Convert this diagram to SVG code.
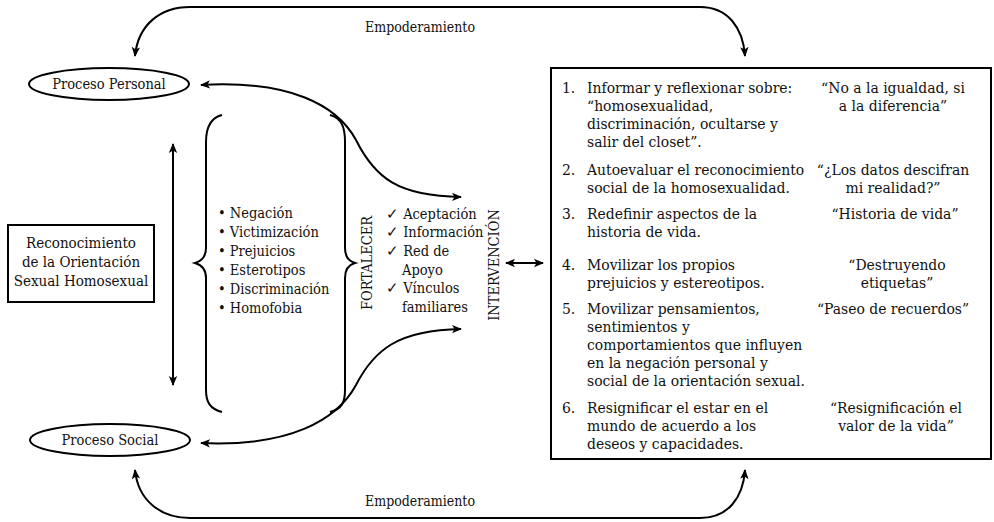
<svg xmlns="http://www.w3.org/2000/svg" width="994" height="522" viewBox="0 0 994 522">
<defs>
<marker id="ah" viewBox="0 0 10 10" refX="9" refY="5" markerWidth="10" markerHeight="10" markerUnits="userSpaceOnUse" orient="auto-start-reverse">
<path d="M0,0.8 L10,5 L0,9.2 L2.5,5 Z" fill="#000"/>
</marker>
<style>
text{font-family:"DejaVu Serif Condensed","DejaVu Serif",serif;font-size:14.5px;fill:#111}
.bx{font-size:15.5px}
.em{font-size:14px}
.rc{font-size:15px}
.ln{fill:none;stroke:#000;stroke-width:2}
.ar{fill:none;stroke:#000;stroke-width:2;marker-start:url(#ah);marker-end:url(#ah)}
.mid{text-anchor:middle}
</style>
</defs>
<rect width="994" height="522" fill="#fff"/>
<g id="connectors">
<path class="ar" d="M135,56 C138,25 160,7 190,7 L700,7 C728,7 743,28 745,56"/>
<path class="ar" d="M135,470 C138,500 160,518 190,518 L700,518 C728,518 743,498 745,470"/>
<path class="ar" d="M201,85 C290,80 337,105 356,140 C375,178 398,196 461,197"/>
<path class="ar" d="M201,443 C290,447 337,420 356,385 C374,350 398,330 461,329"/>
<path class="ar" d="M173,144 L173,385"/>
<path class="ar" d="M506,263 L543,263"/>
</g>
<g id="empoderamiento-top"><text x="420" y="32" class="mid em">Empoderamiento</text></g>
<g id="empoderamiento-bottom"><text x="420" y="506" class="mid em">Empoderamiento</text></g>
<g id="proceso-personal">
<ellipse cx="109" cy="84" rx="80" ry="16" class="ln"/>
<text x="109" y="89" class="mid">Proceso Personal</text>
</g>
<g id="proceso-social">
<ellipse cx="110" cy="440" rx="80" ry="16" class="ln"/>
<text x="110" y="445" class="mid">Proceso Social</text>
</g>
<g id="reconocimiento">
<rect x="8" y="225" width="146" height="77" class="ln"/>
<text x="81" y="248" class="mid rc">Reconocimiento</text>
<text x="81" y="267" class="mid rc">de la Orientación</text>
<text x="81" y="286" class="mid rc">Sexual Homosexual</text>
</g>
<g id="obstaculos">
<path class="ln" d="M222,115 C210,118 206,128 206,142 L206,248 C206,256 202,261 195,263 C202,265 206,270 206,278 L206,390 C206,402 210,409 222,412"/>
<path class="ln" d="M330,115 C342,118 345,128 345,142 L345,248 C345,256 348,261 355,263 C348,265 345,270 345,278 L345,390 C345,402 342,409 330,412"/>
<text x="218" y="218">• Negación</text>
<text x="218" y="237">• Victimización</text>
<text x="218" y="256">• Prejuicios</text>
<text x="218" y="275">• Esterotipos</text>
<text x="218" y="294">• Discriminación</text>
<text x="218" y="313">• Homofobia</text>
</g>
<g id="fortalecer">
<text transform="translate(372,263) rotate(-90)" class="mid">FORTALECER</text>
<text x="386" y="219">✓ Aceptación</text>
<text x="386" y="237">✓ Información</text>
<text x="386" y="256">✓ Red de</text>
<text x="402" y="275">Apoyo</text>
<text x="386" y="293">✓ Vínculos</text>
<text x="402" y="312">familiares</text>
</g>
<g id="intervencion">
<text transform="translate(499,265) rotate(-90)" class="mid">INTERVENCIÓN</text>
</g>
<g id="actividades">
<rect x="551" y="68" width="440" height="391" class="ln"/>
<g class="bx">
<text class="bx" x="562" y="93">1.</text>
<text class="bx" x="587" y="93">Informar y reflexionar sobre:</text>
<text class="bx" x="587" y="111">“homosexualidad,</text>
<text class="bx" x="587" y="129">discriminación, ocultarse y</text>
<text class="bx" x="587" y="147">salir del closet”.</text>
<text class="bx" x="562" y="175">2.</text>
<text class="bx" x="587" y="175">Autoevaluar el reconocimiento</text>
<text class="bx" x="587" y="193">social de la homosexualidad.</text>
<text class="bx" x="562" y="219">3.</text>
<text class="bx" x="587" y="219">Redefinir aspectos de la</text>
<text class="bx" x="587" y="237">historia de vida.</text>
<text class="bx" x="562" y="270">4.</text>
<text class="bx" x="587" y="270">Movilizar los propios</text>
<text class="bx" x="587" y="288">prejuicios y estereotipos.</text>
<text class="bx" x="562" y="314">5.</text>
<text class="bx" x="587" y="314">Movilizar pensamientos,</text>
<text class="bx" x="587" y="332">sentimientos y</text>
<text class="bx" x="587" y="350">comportamientos que influyen</text>
<text class="bx" x="587" y="368">en la negación personal y</text>
<text class="bx" x="587" y="386">social de la orientación sexual.</text>
<text class="bx" x="562" y="413">6.</text>
<text class="bx" x="587" y="413">Resignificar el estar en el</text>
<text class="bx" x="587" y="431">mundo de acuerdo a los</text>
<text class="bx" x="587" y="449">deseos y capacidades.</text>
<text class="bx mid" x="893" y="93">“No a la igualdad, si</text>
<text class="bx mid" x="893" y="111">a la diferencia”</text>
<text class="bx mid" x="893" y="175">“¿Los datos descifran</text>
<text class="bx mid" x="893" y="193">mi realidad?”</text>
<text class="bx mid" x="895" y="219">“Historia de vida”</text>
<text class="bx mid" x="897" y="270">“Destruyendo</text>
<text class="bx mid" x="897" y="288">etiquetas”</text>
<text class="bx mid" x="893" y="314">“Paseo de recuerdos”</text>
<text class="bx mid" x="896" y="413">“Resignificación el</text>
<text class="bx mid" x="896" y="431">valor de la vida”</text>
</g>
</g>
</svg>
